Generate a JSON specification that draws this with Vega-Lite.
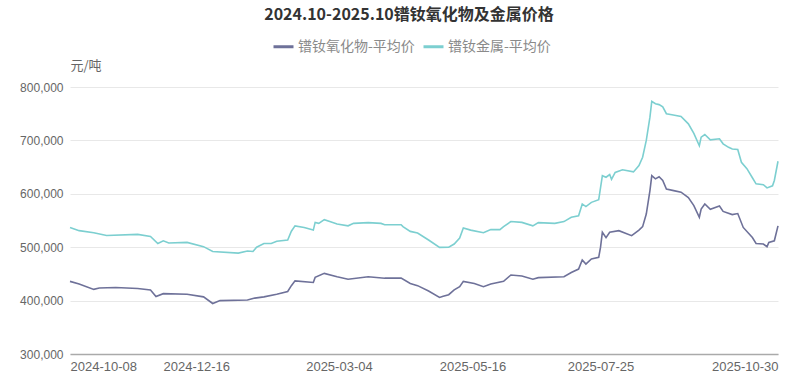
{
  "$schema": "https://vega.github.io/schema/vega-lite/v6.json",
  "autosize": "none",
  "width": 708,
  "height": 267,
  "padding": {"top": 87, "left": 70, "right": 28, "bottom": 35},
  "background": "white",
  "config": {
    "view": {"stroke": null},
    "font": "Noto Sans CJK SC"
  },
  "title": {
    "text": "2024.10-2025.10镨钕氧化物及金属价格",
    "anchor": "middle",
    "fontSize": 16,
    "fontWeight": "bold",
    "color": "#333333",
    "font": "Noto Sans CJK SC",
    "dx": -15,
    "offset": 12
  },
  "data": {
    "values": [
      {"date": "2024-10-08", "series": "镨钕氧化物-平均价", "price": 436000},
      {"date": "2024-10-13", "series": "镨钕氧化物-平均价", "price": 431000},
      {"date": "2024-10-21", "series": "镨钕氧化物-平均价", "price": 421000},
      {"date": "2024-10-24", "series": "镨钕氧化物-平均价", "price": 423500},
      {"date": "2024-11-02", "series": "镨钕氧化物-平均价", "price": 424600},
      {"date": "2024-11-14", "series": "镨钕氧化物-平均价", "price": 422700},
      {"date": "2024-11-21", "series": "镨钕氧化物-平均价", "price": 419700},
      {"date": "2024-11-24", "series": "镨钕氧化物-平均价", "price": 407700},
      {"date": "2024-11-28", "series": "镨钕氧化物-平均价", "price": 413000},
      {"date": "2024-12-11", "series": "镨钕氧化物-平均价", "price": 412000},
      {"date": "2024-12-20", "series": "镨钕氧化物-平均价", "price": 407000},
      {"date": "2024-12-25", "series": "镨钕氧化物-平均价", "price": 394600},
      {"date": "2024-12-29", "series": "镨钕氧化物-平均价", "price": 400000},
      {"date": "2025-01-13", "series": "镨钕氧化物-平均价", "price": 401000},
      {"date": "2025-01-17", "series": "镨钕氧化物-平均价", "price": 404700},
      {"date": "2025-01-22", "series": "镨钕氧化物-平均价", "price": 407000},
      {"date": "2025-01-29", "series": "镨钕氧化物-平均价", "price": 412000},
      {"date": "2025-02-04", "series": "镨钕氧化物-平均价", "price": 417000},
      {"date": "2025-02-06", "series": "镨钕氧化物-平均价", "price": 428000},
      {"date": "2025-02-08", "series": "镨钕氧化物-平均价", "price": 437000},
      {"date": "2025-02-18", "series": "镨钕氧化物-平均价", "price": 434000},
      {"date": "2025-02-19", "series": "镨钕氧化物-平均价", "price": 443500},
      {"date": "2025-02-24", "series": "镨钕氧化物-平均价", "price": 451000},
      {"date": "2025-03-03", "series": "镨钕氧化物-平均价", "price": 444700},
      {"date": "2025-03-09", "series": "镨钕氧化物-平均价", "price": 440000},
      {"date": "2025-03-20", "series": "镨钕氧化物-平均价", "price": 444700},
      {"date": "2025-03-29", "series": "镨钕氧化物-平均价", "price": 442000},
      {"date": "2025-04-07", "series": "镨钕氧化物-平均价", "price": 442000},
      {"date": "2025-04-12", "series": "镨钕氧化物-平均价", "price": 432000},
      {"date": "2025-04-16", "series": "镨钕氧化物-平均价", "price": 428000},
      {"date": "2025-04-22", "series": "镨钕氧化物-平均价", "price": 418000},
      {"date": "2025-04-28", "series": "镨钕氧化物-平均价", "price": 406000},
      {"date": "2025-04-30", "series": "镨钕氧化物-平均价", "price": 408000},
      {"date": "2025-05-03", "series": "镨钕氧化物-平均价", "price": 411000},
      {"date": "2025-05-06", "series": "镨钕氧化物-平均价", "price": 420000},
      {"date": "2025-05-09", "series": "镨钕氧化物-平均价", "price": 426000},
      {"date": "2025-05-11", "series": "镨钕氧化物-平均价", "price": 436000},
      {"date": "2025-05-17", "series": "镨钕氧化物-平均价", "price": 432000},
      {"date": "2025-05-22", "series": "镨钕氧化物-平均价", "price": 426000},
      {"date": "2025-05-26", "series": "镨钕氧化物-平均价", "price": 431000},
      {"date": "2025-06-02", "series": "镨钕氧化物-平均价", "price": 436000},
      {"date": "2025-06-06", "series": "镨钕氧化物-平均价", "price": 448000},
      {"date": "2025-06-12", "series": "镨钕氧化物-平均价", "price": 446000},
      {"date": "2025-06-18", "series": "镨钕氧化物-平均价", "price": 440000},
      {"date": "2025-06-21", "series": "镨钕氧化物-平均价", "price": 443000},
      {"date": "2025-07-05", "series": "镨钕氧化物-平均价", "price": 444700},
      {"date": "2025-07-09", "series": "镨钕氧化物-平均价", "price": 452600},
      {"date": "2025-07-13", "series": "镨钕氧化物-平均价", "price": 459000},
      {"date": "2025-07-15", "series": "镨钕氧化物-平均价", "price": 476000},
      {"date": "2025-07-17", "series": "镨钕氧化物-平均价", "price": 468500},
      {"date": "2025-07-20", "series": "镨钕氧化物-平均价", "price": 478000},
      {"date": "2025-07-24", "series": "镨钕氧化物-平均价", "price": 481000},
      {"date": "2025-07-25", "series": "镨钕氧化物-平均价", "price": 500000},
      {"date": "2025-07-26", "series": "镨钕氧化物-平均价", "price": 528000},
      {"date": "2025-07-28", "series": "镨钕氧化物-平均价", "price": 518000},
      {"date": "2025-07-30", "series": "镨钕氧化物-平均价", "price": 528000},
      {"date": "2025-08-04", "series": "镨钕氧化物-平均价", "price": 531000},
      {"date": "2025-08-11", "series": "镨钕氧化物-平均价", "price": 521600},
      {"date": "2025-08-15", "series": "镨钕氧化物-平均价", "price": 532000},
      {"date": "2025-08-17", "series": "镨钕氧化物-平均价", "price": 538500},
      {"date": "2025-08-19", "series": "镨钕氧化物-平均价", "price": 562000},
      {"date": "2025-08-21", "series": "镨钕氧化物-平均价", "price": 606000},
      {"date": "2025-08-22", "series": "镨钕氧化物-平均价", "price": 634000},
      {"date": "2025-08-24", "series": "镨钕氧化物-平均价", "price": 628000},
      {"date": "2025-08-26", "series": "镨钕氧化物-平均价", "price": 632000},
      {"date": "2025-08-28", "series": "镨钕氧化物-平均价", "price": 625000},
      {"date": "2025-08-30", "series": "镨钕氧化物-平均价", "price": 609000},
      {"date": "2025-09-03", "series": "镨钕氧化物-平均价", "price": 606000},
      {"date": "2025-09-07", "series": "镨钕氧化物-平均价", "price": 603000},
      {"date": "2025-09-11", "series": "镨钕氧化物-平均价", "price": 593000},
      {"date": "2025-09-14", "series": "镨钕氧化物-平均价", "price": 578000},
      {"date": "2025-09-17", "series": "镨钕氧化物-平均价", "price": 556000},
      {"date": "2025-09-18", "series": "镨钕氧化物-平均价", "price": 571600},
      {"date": "2025-09-20", "series": "镨钕氧化物-平均价", "price": 581000},
      {"date": "2025-09-23", "series": "镨钕氧化物-平均价", "price": 571000},
      {"date": "2025-09-28", "series": "镨钕氧化物-平均价", "price": 577000},
      {"date": "2025-09-30", "series": "镨钕氧化物-平均价", "price": 567000},
      {"date": "2025-10-05", "series": "镨钕氧化物-平均价", "price": 561000},
      {"date": "2025-10-08", "series": "镨钕氧化物-平均价", "price": 563000},
      {"date": "2025-10-11", "series": "镨钕氧化物-平均价", "price": 537000},
      {"date": "2025-10-16", "series": "镨钕氧化物-平均价", "price": 518000},
      {"date": "2025-10-18", "series": "镨钕氧化物-平均价", "price": 507000},
      {"date": "2025-10-22", "series": "镨钕氧化物-平均价", "price": 506000},
      {"date": "2025-10-24", "series": "镨钕氧化物-平均价", "price": 501000},
      {"date": "2025-10-25", "series": "镨钕氧化物-平均价", "price": 509000},
      {"date": "2025-10-28", "series": "镨钕氧化物-平均价", "price": 512000},
      {"date": "2025-10-30", "series": "镨钕氧化物-平均价", "price": 540000},
      {"date": "2024-10-08", "series": "镨钕金属-平均价", "price": 537000},
      {"date": "2024-10-13", "series": "镨钕金属-平均价", "price": 531000},
      {"date": "2024-10-21", "series": "镨钕金属-平均价", "price": 527000},
      {"date": "2024-10-28", "series": "镨钕金属-平均价", "price": 522000},
      {"date": "2024-11-14", "series": "镨钕金属-平均价", "price": 524000},
      {"date": "2024-11-21", "series": "镨钕金属-平均价", "price": 520000},
      {"date": "2024-11-25", "series": "镨钕金属-平均价", "price": 507000},
      {"date": "2024-11-28", "series": "镨钕金属-平均价", "price": 512000},
      {"date": "2024-12-01", "series": "镨钕金属-平均价", "price": 508000},
      {"date": "2024-12-11", "series": "镨钕金属-平均价", "price": 509000},
      {"date": "2024-12-20", "series": "镨钕金属-平均价", "price": 501000},
      {"date": "2024-12-25", "series": "镨钕金属-平均价", "price": 492000},
      {"date": "2025-01-08", "series": "镨钕金属-平均价", "price": 489000},
      {"date": "2025-01-13", "series": "镨钕金属-平均价", "price": 493000},
      {"date": "2025-01-16", "series": "镨钕金属-平均价", "price": 492000},
      {"date": "2025-01-18", "series": "镨钕金属-平均价", "price": 500000},
      {"date": "2025-01-22", "series": "镨钕金属-平均价", "price": 507000},
      {"date": "2025-01-26", "series": "镨钕金属-平均价", "price": 507000},
      {"date": "2025-01-29", "series": "镨钕金属-平均价", "price": 511000},
      {"date": "2025-02-04", "series": "镨钕金属-平均价", "price": 513500},
      {"date": "2025-02-06", "series": "镨钕金属-平均价", "price": 530000},
      {"date": "2025-02-08", "series": "镨钕金属-平均价", "price": 540000},
      {"date": "2025-02-13", "series": "镨钕金属-平均价", "price": 537000},
      {"date": "2025-02-18", "series": "镨钕金属-平均价", "price": 532000},
      {"date": "2025-02-19", "series": "镨钕金属-平均价", "price": 546500},
      {"date": "2025-02-21", "series": "镨钕金属-平均价", "price": 544600},
      {"date": "2025-02-24", "series": "镨钕金属-平均价", "price": 551600},
      {"date": "2025-02-27", "series": "镨钕金属-平均价", "price": 548000},
      {"date": "2025-03-03", "series": "镨钕金属-平均价", "price": 543500},
      {"date": "2025-03-09", "series": "镨钕金属-平均价", "price": 540000},
      {"date": "2025-03-12", "series": "镨钕金属-平均价", "price": 544600},
      {"date": "2025-03-20", "series": "镨钕金属-平均价", "price": 546000},
      {"date": "2025-03-27", "series": "镨钕金属-平均价", "price": 544600},
      {"date": "2025-03-29", "series": "镨钕金属-平均价", "price": 542000},
      {"date": "2025-04-07", "series": "镨钕金属-平均价", "price": 542000},
      {"date": "2025-04-08", "series": "镨钕金属-平均价", "price": 538500},
      {"date": "2025-04-12", "series": "镨钕金属-平均价", "price": 529600},
      {"date": "2025-04-16", "series": "镨钕金属-平均价", "price": 526600},
      {"date": "2025-04-22", "series": "镨钕金属-平均价", "price": 513500},
      {"date": "2025-04-28", "series": "镨钕金属-平均价", "price": 499600},
      {"date": "2025-05-03", "series": "镨钕金属-平均价", "price": 500000},
      {"date": "2025-05-06", "series": "镨钕金属-平均价", "price": 506000},
      {"date": "2025-05-09", "series": "镨钕金属-平均价", "price": 517000},
      {"date": "2025-05-11", "series": "镨钕金属-平均价", "price": 536000},
      {"date": "2025-05-15", "series": "镨钕金属-平均价", "price": 532000},
      {"date": "2025-05-22", "series": "镨钕金属-平均价", "price": 527000},
      {"date": "2025-05-26", "series": "镨钕金属-平均价", "price": 533000},
      {"date": "2025-05-31", "series": "镨钕金属-平均价", "price": 533000},
      {"date": "2025-06-02", "series": "镨钕金属-平均价", "price": 538500},
      {"date": "2025-06-06", "series": "镨钕金属-平均价", "price": 548000},
      {"date": "2025-06-12", "series": "镨钕金属-平均价", "price": 546500},
      {"date": "2025-06-18", "series": "镨钕金属-平均价", "price": 540000},
      {"date": "2025-06-21", "series": "镨钕金属-平均价", "price": 546000},
      {"date": "2025-06-30", "series": "镨钕金属-平均价", "price": 544600},
      {"date": "2025-07-05", "series": "镨钕金属-平均价", "price": 548000},
      {"date": "2025-07-09", "series": "镨钕金属-平均价", "price": 556000},
      {"date": "2025-07-13", "series": "镨钕金属-平均价", "price": 559000},
      {"date": "2025-07-15", "series": "镨钕金属-平均价", "price": 581000},
      {"date": "2025-07-17", "series": "镨钕金属-平均价", "price": 576000},
      {"date": "2025-07-20", "series": "镨钕金属-平均价", "price": 584000},
      {"date": "2025-07-24", "series": "镨钕金属-平均价", "price": 589000},
      {"date": "2025-07-26", "series": "镨钕金属-平均价", "price": 634000},
      {"date": "2025-07-28", "series": "镨钕金属-平均价", "price": 631000},
      {"date": "2025-07-30", "series": "镨钕金属-平均价", "price": 636000},
      {"date": "2025-07-31", "series": "镨钕金属-平均价", "price": 627000},
      {"date": "2025-08-02", "series": "镨钕金属-平均价", "price": 640000},
      {"date": "2025-08-06", "series": "镨钕金属-平均价", "price": 645000},
      {"date": "2025-08-12", "series": "镨钕金属-平均价", "price": 641000},
      {"date": "2025-08-15", "series": "镨钕金属-平均价", "price": 653000},
      {"date": "2025-08-17", "series": "镨钕金属-平均价", "price": 668500},
      {"date": "2025-08-19", "series": "镨钕金属-平均价", "price": 700000},
      {"date": "2025-08-21", "series": "镨钕金属-平均价", "price": 743500},
      {"date": "2025-08-22", "series": "镨钕金属-平均价", "price": 773000},
      {"date": "2025-08-24", "series": "镨钕金属-平均价", "price": 768600},
      {"date": "2025-08-26", "series": "镨钕金属-平均价", "price": 767000},
      {"date": "2025-08-28", "series": "镨钕金属-平均价", "price": 763000},
      {"date": "2025-08-30", "series": "镨钕金属-平均价", "price": 750000},
      {"date": "2025-09-02", "series": "镨钕金属-平均价", "price": 748000},
      {"date": "2025-09-07", "series": "镨钕金属-平均价", "price": 745000},
      {"date": "2025-09-11", "series": "镨钕金属-平均价", "price": 731000},
      {"date": "2025-09-14", "series": "镨钕金属-平均价", "price": 713000},
      {"date": "2025-09-17", "series": "镨钕金属-平均价", "price": 690000},
      {"date": "2025-09-18", "series": "镨钕金属-平均价", "price": 706000},
      {"date": "2025-09-20", "series": "镨钕金属-平均价", "price": 711000},
      {"date": "2025-09-23", "series": "镨钕金属-平均价", "price": 701000},
      {"date": "2025-09-28", "series": "镨钕金属-平均价", "price": 703000},
      {"date": "2025-09-30", "series": "镨钕金属-平均价", "price": 693600},
      {"date": "2025-10-03", "series": "镨钕金属-平均价", "price": 687000},
      {"date": "2025-10-05", "series": "镨钕金属-平均价", "price": 684000},
      {"date": "2025-10-08", "series": "镨钕金属-平均价", "price": 683000},
      {"date": "2025-10-10", "series": "镨钕金属-平均价", "price": 659000},
      {"date": "2025-10-13", "series": "镨钕金属-平均价", "price": 647000},
      {"date": "2025-10-16", "series": "镨钕金属-平均价", "price": 630000},
      {"date": "2025-10-18", "series": "镨钕金属-平均价", "price": 618600},
      {"date": "2025-10-22", "series": "镨钕金属-平均价", "price": 617000},
      {"date": "2025-10-24", "series": "镨钕金属-平均价", "price": 611000},
      {"date": "2025-10-27", "series": "镨钕金属-平均价", "price": 615000},
      {"date": "2025-10-28", "series": "镨钕金属-平均价", "price": 625000},
      {"date": "2025-10-30", "series": "镨钕金属-平均价", "price": 661000}
    ]
  },
  "mark": {"type": "line", "strokeWidth": 1.6, "interpolate": "linear"},
  "encoding": {
    "x": {
      "field": "date",
      "type": "temporal",
      "scale": {
        "type": "utc",
        "domain": [
          {"year": 2024, "month": 10, "date": 8, "utc": true},
          {"year": 2025, "month": 10, "date": 30, "utc": true}
        ]
      },
      "axis": {
        "title": null,
        "values": [
          {"year": 2024, "month": 10, "date": 8, "utc": true},
          {"year": 2024, "month": 12, "date": 16, "utc": true},
          {"year": 2025, "month": 3, "date": 4, "utc": true},
          {"year": 2025, "month": 5, "date": 16, "utc": true},
          {"year": 2025, "month": 7, "date": 25, "utc": true},
          {"year": 2025, "month": 10, "date": 30, "utc": true}
        ],
        "labelExpr": "utcFormat(datum.value, '%Y-%m-%d')",
        "labelFlush": 5,
        "labelFont": "Liberation Sans",
        "labelFontSize": 13,
        "labelColor": "#666666",
        "labelPadding": 6,
        "ticks": false,
        "grid": false,
        "domainColor": "#aaaaaa",
        "domainWidth": 1.5
      }
    },
    "y": {
      "field": "price",
      "type": "quantitative",
      "scale": {"domain": [300000, 800000], "nice": false},
      "axis": {
        "title": "元/吨",
        "titleAngle": 0,
        "titleAlign": "left",
        "titleBaseline": "middle",
        "titleX": 0,
        "titleY": -22,
        "titleFont": "Noto Sans CJK SC",
        "titleFontSize": 13,
        "titleFontWeight": "normal",
        "titleColor": "#666666",
        "values": [300000, 400000, 500000, 600000, 700000, 800000],
        "format": ",.0f",
        "labelFont": "Liberation Sans",
        "labelFontSize": 12,
        "labelColor": "#666666",
        "labelPadding": 7,
        "ticks": false,
        "domain": false,
        "gridColor": "#e8e8e8",
        "gridWidth": 1
      }
    },
    "color": {
      "field": "series",
      "type": "nominal",
      "scale": {
        "domain": ["镨钕氧化物-平均价", "镨钕金属-平均价"],
        "range": ["#6e7199", "#7ccfd0"]
      },
      "legend": {
        "title": null,
        "orient": "none",
        "direction": "horizontal",
        "legendX": 202,
        "legendY": -52,
        "symbolType": "stroke",
        "symbolSize": 400,
        "symbolStrokeWidth": 3,
        "labelFont": "Noto Sans CJK SC",
        "labelFontSize": 14,
        "labelColor": "#8a8a8a",
        "labelOffset": 3,
        "columnPadding": 2
      }
    }
  }
}
